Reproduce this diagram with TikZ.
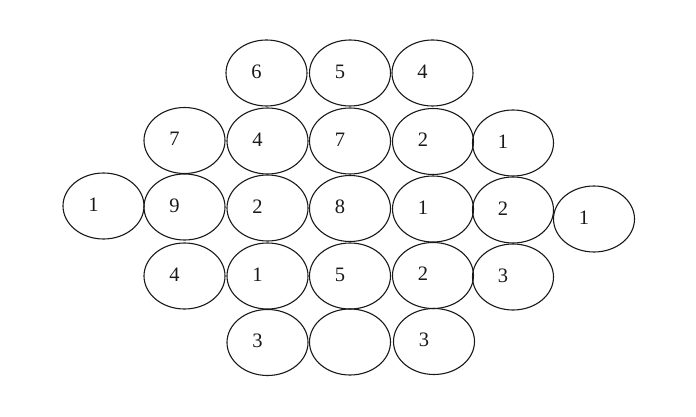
\documentclass[tikz,border=0pt]{standalone}
\usepackage{fontspec}
\setmainfont{Liberation Serif}
\usetikzlibrary{shapes.geometric}
\begin{document}
\begin{tikzpicture}[x=1pt,y=-1pt,
  cell/.style={ellipse,draw=black!90,line width=1.1pt,minimum width=81pt,minimum height=66pt,inner sep=0pt},
  num/.style={font=\fontsize{20.5}{20.5}\selectfont,text=black!90,xshift=-10pt,yshift=1.5pt}]
\useasboundingbox (0,0) rectangle (696,417);
% row 1
\node[cell] (a1) at (266.5,73) {};
\node[cell] (a2) at (350,73) {};
\node[cell] (a3) at (432.5,73) {};
% row 2
\node[cell] (b1) at (184.5,140.5) {};
\node[cell] (b2) at (267.5,141) {};
\node[cell] (b3) at (350,141) {};
\node[cell] (b4) at (433,141.5) {};
\node[cell] (b5) at (513,143) {};
% row 3
\node[cell] (c1) at (103.5,206) {};
\node[cell] (c2) at (184.5,207) {};
\node[cell] (c3) at (267.5,208) {};
\node[cell] (c4) at (350,208.5) {};
\node[cell] (c5) at (433,209) {};
\node[cell] (c6) at (513,210) {};
\node[cell] (c7) at (594,219) {};
% row 4
\node[cell] (d1) at (184.5,276) {};
\node[cell] (d2) at (267.5,276) {};
\node[cell] (d3) at (350,276) {};
\node[cell] (d4) at (433,275.5) {};
\node[cell] (d5) at (513,277) {};
% row 5
\node[cell] (e1) at (267.5,342.5) {};
\node[cell] (e2) at (350,342) {};
\node[cell] (e3) at (434,341.5) {};
% labels
\foreach \n/\t in {a1/6,a2/5,a3/4,b1/7,b2/4,b3/7,b4/2,b5/1,c1/1,c2/9,c3/2,c4/8,c5/1,c6/2,c7/1,d1/4,d2/1,d3/5,d4/2,d5/3,e1/3,e3/3}
  \node[num] (t\n) at (\n.center) {\t};
\end{tikzpicture}
\end{document}
